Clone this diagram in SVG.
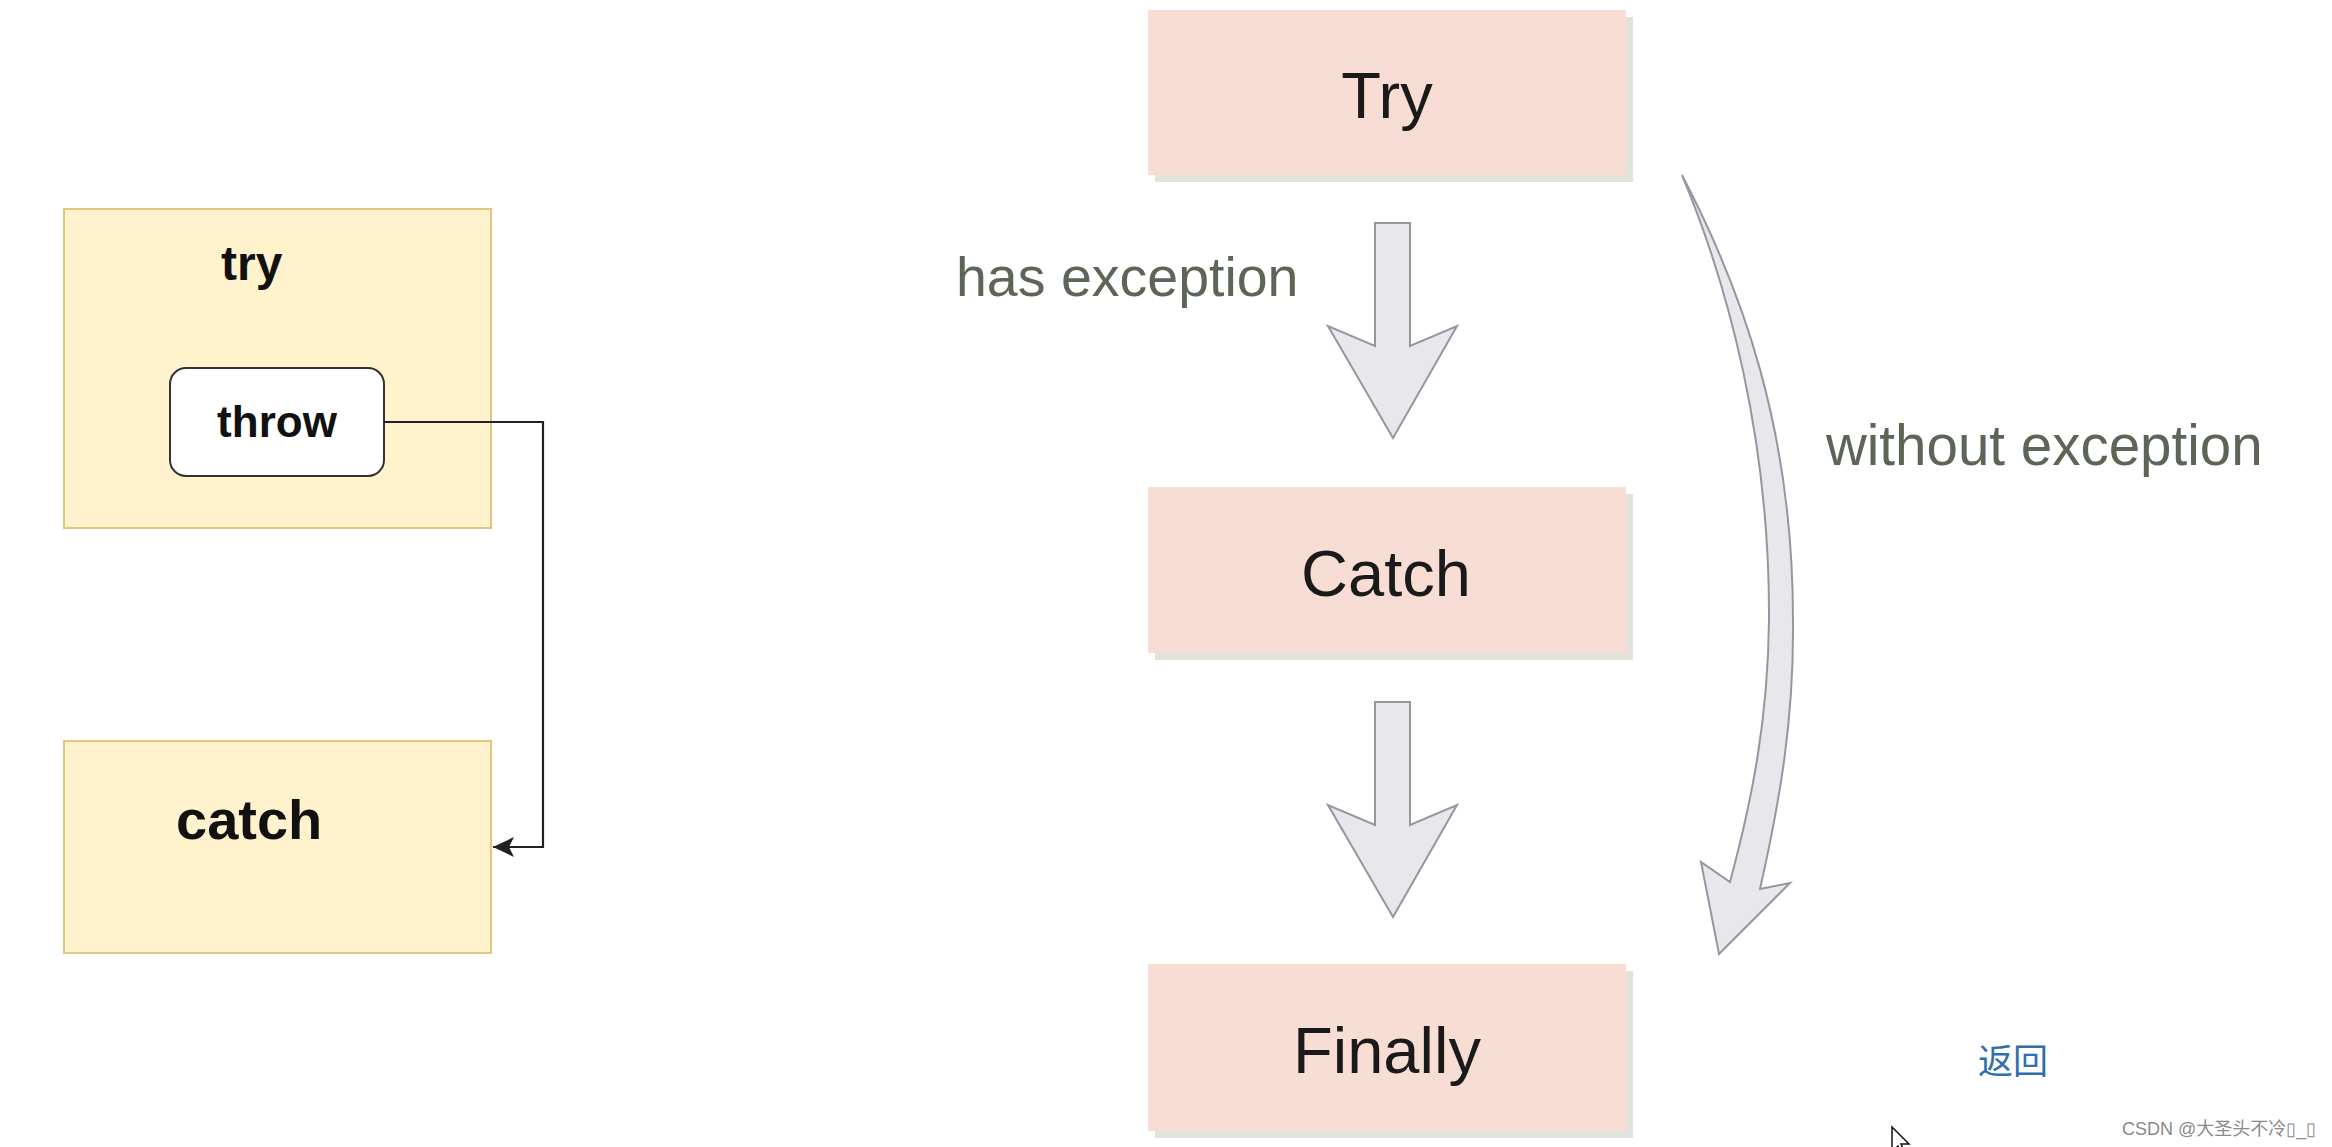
<svg xmlns="http://www.w3.org/2000/svg" width="2332" height="1147" viewBox="0 0 2332 1147">
<style>
.ybox{fill:#fff2cc;stroke:#e2c57e;stroke-width:2}
.pbox{fill:#f8ddd5}
.shadow{fill:#e2e3da}
.lbl-b{font-family:"Liberation Sans",Arial,sans-serif;font-weight:bold;fill:#111}
.lbl{font-family:"Liberation Sans",Arial,sans-serif;fill:#1a1a1a;font-size:65px;text-anchor:middle}
.note{font-family:"Liberation Sans",Arial,sans-serif;fill:#5d6556}
.big{fill:#e8e8ec;stroke:#9696a0;stroke-width:2;stroke-linejoin:miter}
.conn{fill:none;stroke:#222;stroke-width:2.2}
</style>
<defs>
<marker id="arr" markerWidth="22" markerHeight="22" refX="21" refY="10" orient="auto" markerUnits="userSpaceOnUse" viewBox="0 0 22 20">
<path d="M21,10 L0,0 L5,10 L0,20 Z" fill="#222"/>
</marker>
</defs>
<rect width="2332" height="1147" fill="#ffffff"/>

<g id="try-left">
<rect class="ybox" x="64" y="209" width="427" height="319"/>
<text class="lbl-b" x="221" y="280" font-size="48">try</text>
</g>
<g id="throw">
<rect x="170" y="368" width="214" height="108" rx="16" fill="#ffffff" stroke="#333" stroke-width="2"/>
<text class="lbl-b" x="277" y="437" font-size="44" text-anchor="middle">throw</text>
</g>
<g id="catch-left">
<rect class="ybox" x="64" y="741" width="427" height="212"/>
<text class="lbl-b" x="176" y="839" font-size="56">catch</text>
</g>

<g id="Try">
<rect class="shadow" x="1155" y="17" width="478" height="165"/>
<rect class="pbox" x="1148" y="10" width="478" height="165"/>
<text class="lbl" x="1387" y="118">Try</text>
</g>
<g id="Catch">
<rect class="shadow" x="1155" y="494" width="478" height="166"/>
<rect class="pbox" x="1148" y="487" width="478" height="166"/>
<text class="lbl" x="1386" y="596">Catch</text>
</g>
<g id="Finally">
<rect class="shadow" x="1155" y="971" width="478" height="167"/>
<rect class="pbox" x="1148" y="964" width="478" height="167"/>
<text class="lbl" x="1387" y="1073">Finally</text>
</g>

<g id="connectors">
<polyline class="conn" points="384,422 543,422 543,847 493,847" marker-end="url(#arr)"/>
<path class="big" d="M1375,223 L1410,223 L1410,346 L1457,326 L1393,438 L1328,326 L1375,346 Z"/>
<path class="big" d="M1375,702 L1410,702 L1410,825 L1457,805 L1393,917 L1328,805 L1375,825 Z"/>
<path class="big" d="M1682,175 C1728,285 1770,440 1769,620 C1768,720 1752,800 1730,882 L1701,862 L1719,954 L1790,883 L1760,889 C1780,800 1794,720 1793,620 C1793,430 1742,290 1682,175 Z"/>
<text class="note" x="956" y="296" font-size="55.5">has exception</text>
<text class="note" x="1826" y="465" font-size="56.5">without exception</text>
</g>

<text x="1978" y="1074" font-family="'Noto Sans CJK SC',sans-serif" font-size="35" fill="#2f6fae">返回</text>
<text x="2122" y="1135" font-family="'Liberation Sans','Noto Sans CJK SC',sans-serif" font-size="18" fill="#8a8a8a">CSDN @大圣头不冷▯_▯</text>
<path d="M1892,1127 L1892,1152 L1898,1146 L1903,1157 L1906,1155 L1901,1144 L1909,1144 Z" fill="#ffffff" stroke="#111" stroke-width="1.5"/>
</svg>
